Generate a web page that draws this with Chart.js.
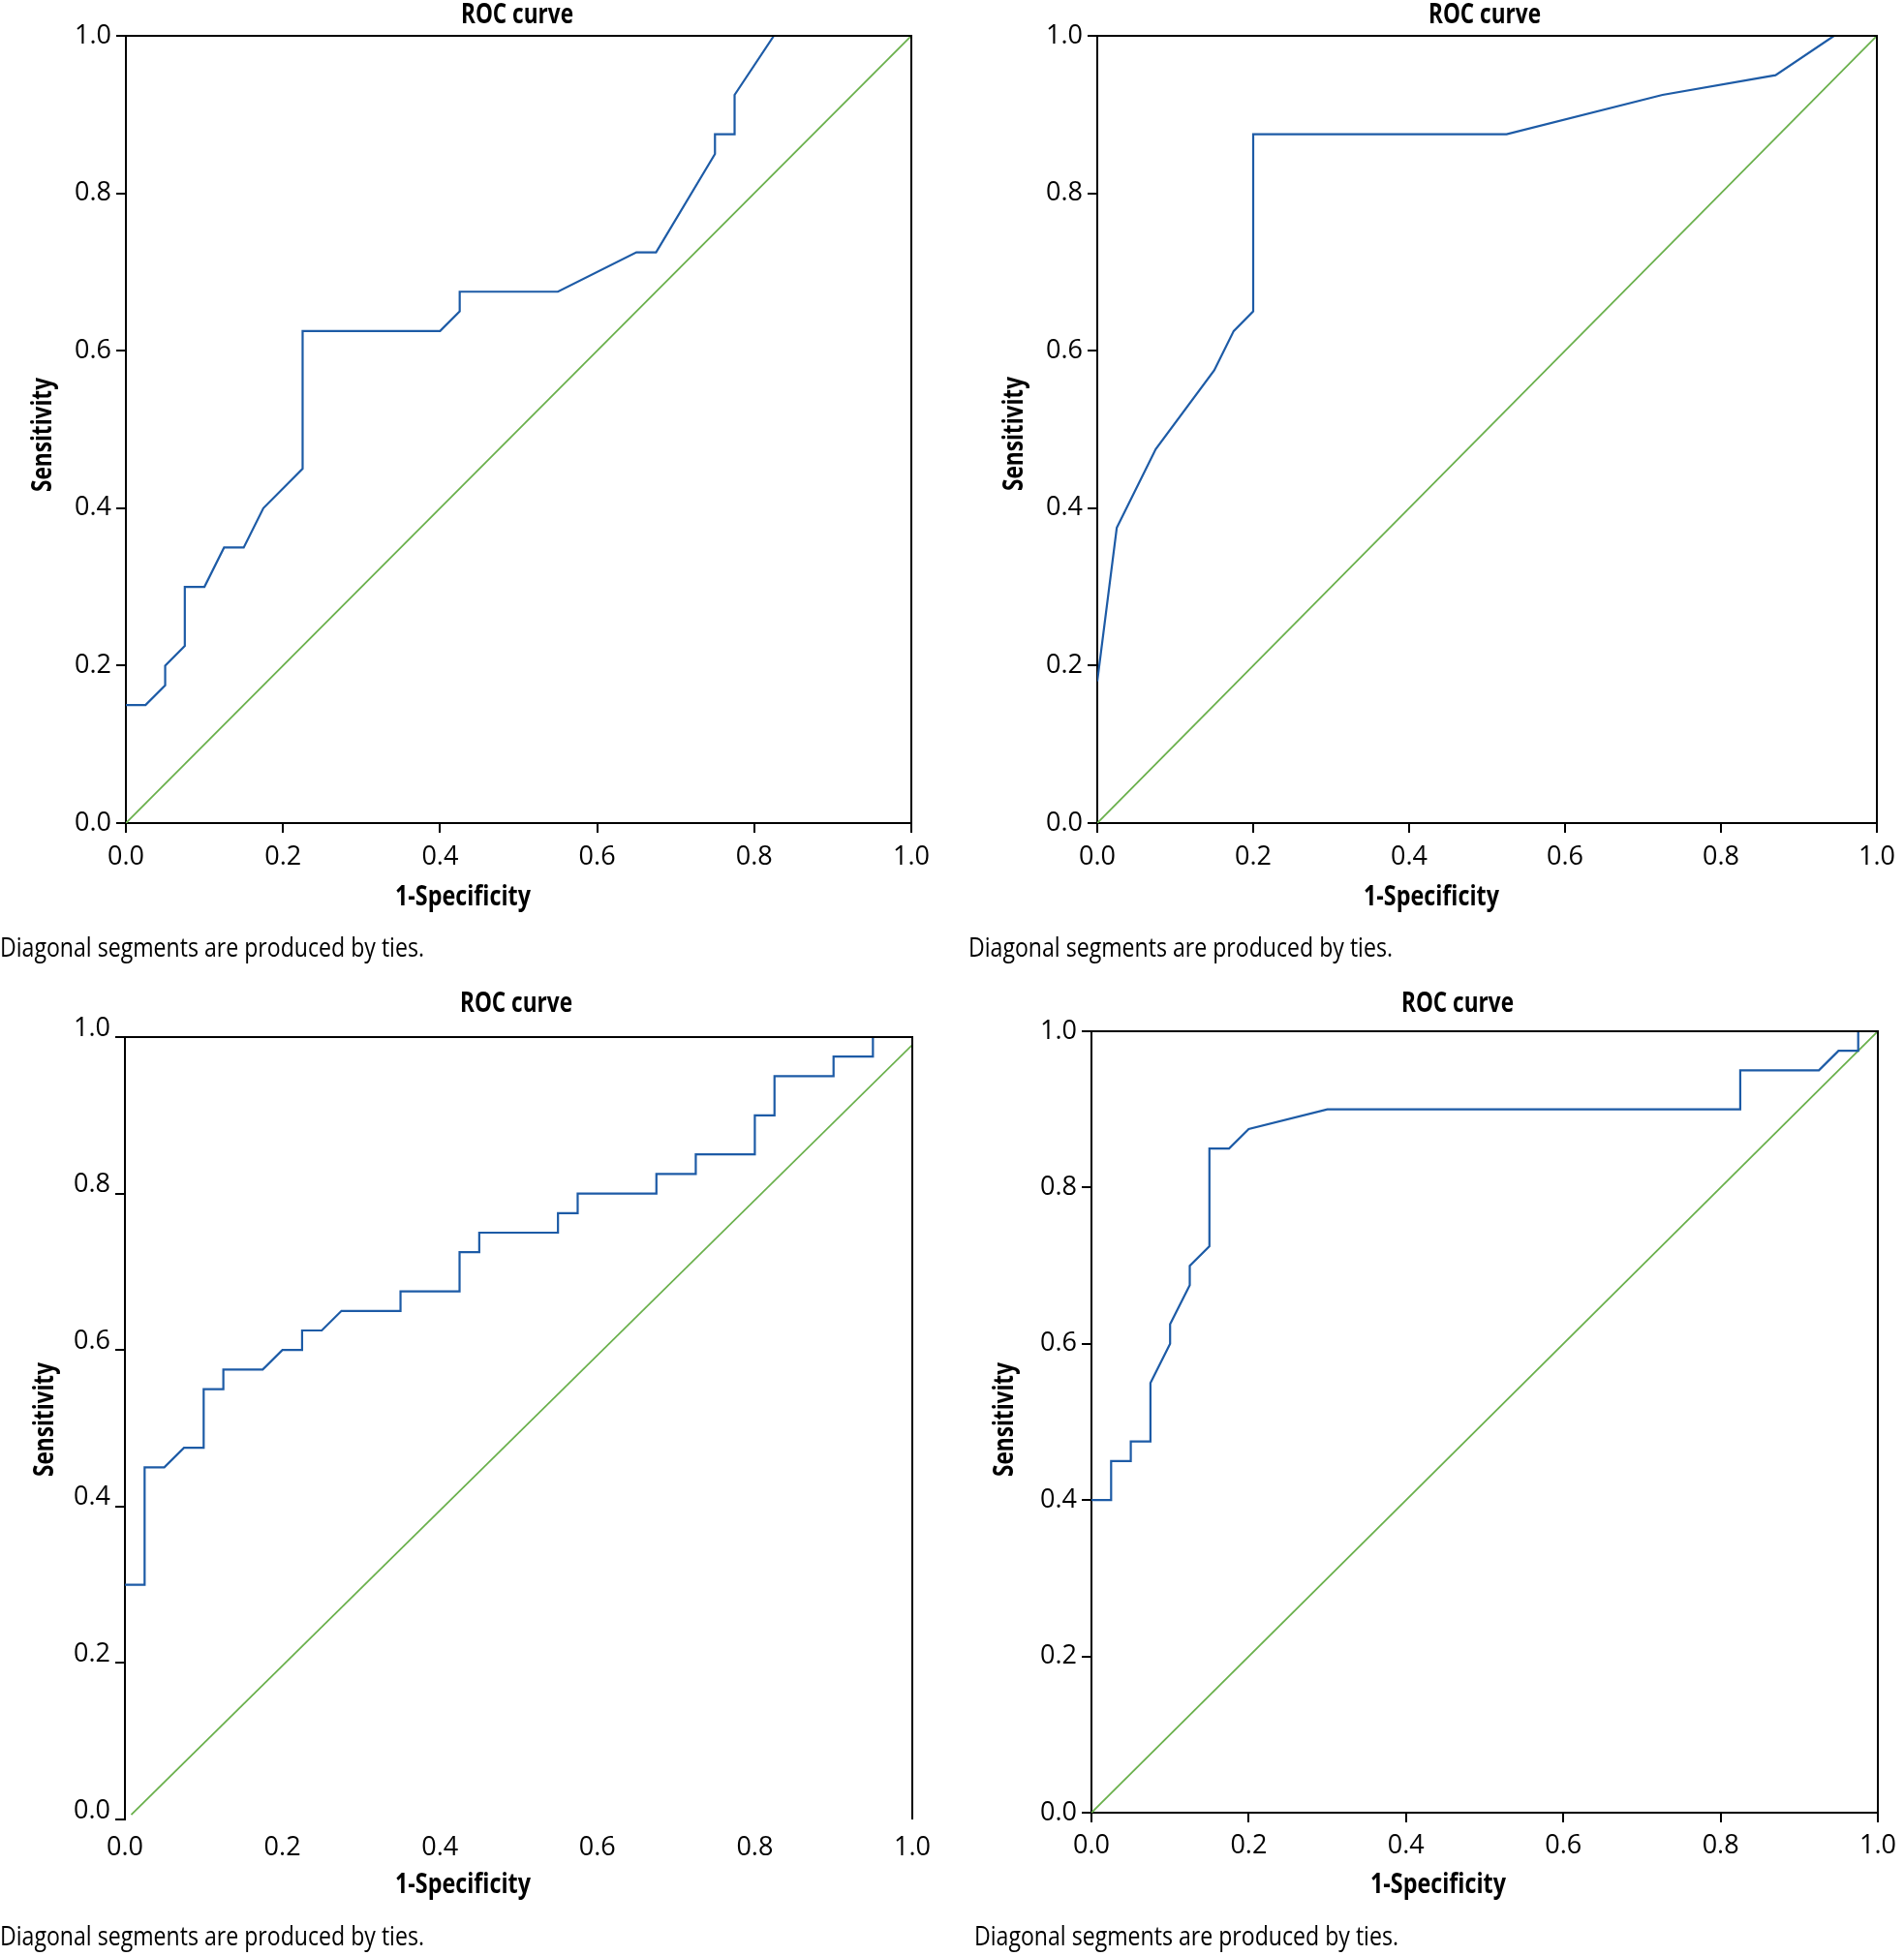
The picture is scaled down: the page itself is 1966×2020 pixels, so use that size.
<!DOCTYPE html>
<html>
<head>
<meta charset="utf-8">
<title>ROC curves</title>
<script src="https://cdn.jsdelivr.net/npm/chart.js@4.4.1/dist/chart.umd.min.js"></script>
<style>
  html, body { margin: 0; padding: 0; background: #fff; }
  body { position: relative; width: 1966px; height: 2020px; overflow: hidden; }
  canvas { position: absolute; }
</style>
</head>
<body>
<script>
// tick labels shared by all four panels
const tickValues = [0, 0.2, 0.4, 0.6, 0.8, 1.0];

// panel 1 (top left) - 1-specificity / sensitivity
const roc1X = [0, 0.025, 0.05, 0.05, 0.075, 0.075, 0.1, 0.125, 0.15, 0.175, 0.225, 0.225, 0.4, 0.425, 0.425, 0.55, 0.65, 0.675, 0.75, 0.75, 0.775, 0.775, 0.825, 1.0];
const roc1Y = [0.15, 0.15, 0.175, 0.2, 0.225, 0.3, 0.3, 0.35, 0.35, 0.4, 0.45, 0.625, 0.625, 0.65, 0.675, 0.675, 0.725, 0.725, 0.85, 0.875, 0.875, 0.925, 1.0, 1.0];

// panel 2 (top right)
const roc2X = [0, 0.025, 0.075, 0.15, 0.175, 0.2, 0.2, 0.525, 0.725, 0.87, 0.945, 1.0];
const roc2Y = [0.18, 0.375, 0.475, 0.575, 0.625, 0.65, 0.875, 0.875, 0.925, 0.95, 1.0, 1.0];

// panel 3 (bottom left)
const roc3X = [0, 0.025, 0.025, 0.05, 0.075, 0.1, 0.1, 0.125, 0.125, 0.175, 0.2, 0.225, 0.225, 0.25, 0.275, 0.35, 0.35, 0.425,
               0.425, 0.45, 0.45, 0.55, 0.55, 0.575, 0.575, 0.675, 0.675, 0.725, 0.725, 0.8, 0.8, 0.825, 0.825, 0.9, 0.9, 0.95, 0.95, 1.0];
const roc3Y = [0.3, 0.3, 0.45, 0.45, 0.475, 0.475, 0.55, 0.55, 0.575, 0.575, 0.6, 0.6, 0.625, 0.625, 0.65, 0.65, 0.675, 0.675,
               0.725, 0.725, 0.75, 0.75, 0.775, 0.775, 0.8, 0.8, 0.825, 0.825, 0.85, 0.85, 0.9, 0.9, 0.95, 0.95, 0.975, 0.975, 1.0, 1.0];

// panel 4 (bottom right)
const roc4X = [0, 0.025, 0.025, 0.05, 0.05, 0.075, 0.075, 0.1, 0.1, 0.125, 0.125, 0.15, 0.15, 0.175, 0.2, 0.3, 0.825, 0.825, 0.925, 0.95, 0.975, 0.975, 1.0];
const roc4Y = [0.4, 0.4, 0.45, 0.45, 0.475, 0.475, 0.55, 0.6, 0.625, 0.675, 0.7, 0.725, 0.85, 0.85, 0.875, 0.9, 0.9, 0.95, 0.95, 0.975, 0.975, 1.0, 1.0];

// reference lines
const diagX = [0, 1];
const diagY = [0, 1];
const diag3X = [0.008, 1];
const diag3Y = [0.006, 0.99];

const BLUE = '#1d5ba6';
const GREEN = '#6ab04c';
const FONT = '"Open Sans", "Noto Sans", sans-serif';

// page layout of each panel: canvas box, chart area, text anchors
const panels = [
    { box: [0, 0, 983, 1010], area: [130, 37, 941, 850], rocX: roc1X, rocY: roc1Y, dX: diagX, dY: diagY,
      title: [534, 24], xTitle: [478, 935], yTitle: [53, 449], caption: [0, 988], xTickPad: 9 },
    { box: [983, 0, 983, 1010], area: [1133, 37, 1943, 850], rocX: roc2X, rocY: roc2Y, dX: diagX, dY: diagY,
      title: [1533, 24], xTitle: [1478, 935], yTitle: [1056, 448], caption: [1000, 988], xTickPad: 9 },
    { box: [0, 1010, 983, 1010], area: [129, 1071, 942, 1879], rocX: roc3X, rocY: roc3Y, dX: diag3X, dY: diag3Y,
      title: [533, 1045], xTitle: [478, 1955], yTitle: [55, 1466], caption: [0, 2009], xTickPad: 3,
      noXAxisLine: true, yLabelOffset: -9 },
    { box: [983, 1010, 983, 1010], area: [1127, 1065, 1941, 1872], rocX: roc4X, rocY: roc4Y, dX: diagX, dY: diagY,
      title: [1505, 1045], xTitle: [1485, 1955], yTitle: [1046, 1466], caption: [1006, 2009], xTickPad: 8 }
];

function toPoints(xs, ys) {
    return xs.map((x, i) => ({ x: x, y: ys[i] }));
}

// draws the frame (top/right) plus title, axis titles and footnote
const panelText = {
    id: 'panelText',
    afterDraw(chart, args, opts) {
        const ctx = chart.ctx;
        const a = chart.chartArea;
        ctx.save();
        ctx.strokeStyle = '#000';
        ctx.lineWidth = 2;
        ctx.beginPath();
        ctx.moveTo(a.left, a.top);
        ctx.lineTo(a.right, a.top);
        ctx.lineTo(a.right, a.bottom + (opts.noBottom ? 0 : 1));
        ctx.stroke();

        ctx.fillStyle = '#000';
        ctx.textBaseline = 'alphabetic';
        ctx.textAlign = 'center';
        ctx.font = 'bold 28px ' + FONT;
        ctx.fillText('ROC curve', opts.title[0], opts.title[1], 116);
        ctx.fillText('1-Specificity', opts.xTitle[0], opts.xTitle[1], 140);

        ctx.save();
        ctx.translate(opts.yTitle[0], opts.yTitle[1]);
        ctx.rotate(-Math.PI / 2);
        ctx.fillText('Sensitivity', 0, 0, 118);
        ctx.restore();

        ctx.textAlign = 'left';
        ctx.font = '27px ' + FONT;
        ctx.fillText('Diagonal segments are produced by ties.', opts.caption[0], opts.caption[1], 438);
        ctx.restore();
    }
};

function makeChart(p) {
    const [cx, cy, cw, ch] = p.box;
    const [L, T, R, B] = p.area;
    const xH = 60;
    const canvas = document.createElement('canvas');
    canvas.width = cw;
    canvas.height = ch;
    canvas.style.left = cx + 'px';
    canvas.style.top = cy + 'px';
    canvas.style.width = cw + 'px';
    canvas.style.height = ch + 'px';
    document.body.appendChild(canvas);

    // text anchors relative to this canvas
    const rel = pt => [pt[0] - cx, pt[1] - cy];

    const tickFont = { family: FONT, size: 27, weight: '400' };

    new Chart(canvas.getContext('2d'), {
        type: 'line',
        data: {
            datasets: [
                { data: toPoints(p.rocX, p.rocY), borderColor: BLUE, borderWidth: 2.2 },
                { data: toPoints(p.dX, p.dY), borderColor: GREEN, borderWidth: 1.8 }
            ]
        },
        options: {
            responsive: false,
            animation: false,
            devicePixelRatio: 1,
            layout: { padding: { left: 0, top: T - cy, right: cx + cw - R, bottom: cy + ch - B - xH } },
            elements: { point: { radius: 0 }, line: { tension: 0, fill: false } },
            plugins: {
                legend: { display: false },
                tooltip: { enabled: false },
                panelText: {
                    title: rel(p.title), xTitle: rel(p.xTitle), yTitle: rel(p.yTitle),
                    caption: rel(p.caption), noBottom: !!p.noXAxisLine
                }
            },
            scales: {
                x: {
                    type: 'linear', min: 0, max: 1,
                    afterFit: s => { s.height = xH; },
                    afterBuildTicks: s => { s.ticks = tickValues.map(v => ({ value: v })); },
                    ticks: { font: tickFont, color: '#000', padding: p.xTickPad, maxRotation: 0, callback: v => v.toFixed(1) },
                    grid: { drawOnChartArea: false, drawTicks: true, tickLength: 10, lineWidth: 2,
                            color: p.noXAxisLine ? 'rgba(0,0,0,0)' : '#000' },
                    border: { display: !p.noXAxisLine, color: '#000', width: 2 }
                },
                y: {
                    type: 'linear', min: 0, max: 1,
                    afterFit: s => { s.width = L - cx; },
                    afterBuildTicks: s => { s.ticks = tickValues.map(v => ({ value: v })); },
                    ticks: { font: tickFont, color: '#000', padding: 5, labelOffset: p.yLabelOffset || 0,
                             callback: v => v.toFixed(1) },
                    grid: { drawOnChartArea: false, drawTicks: true, tickLength: 10, lineWidth: 2, color: '#000' },
                    border: { display: true, color: '#000', width: 2 }
                }
            }
        },
        plugins: [panelText]
    });
}

panels.forEach(makeChart);
</script>
</body>
</html>
